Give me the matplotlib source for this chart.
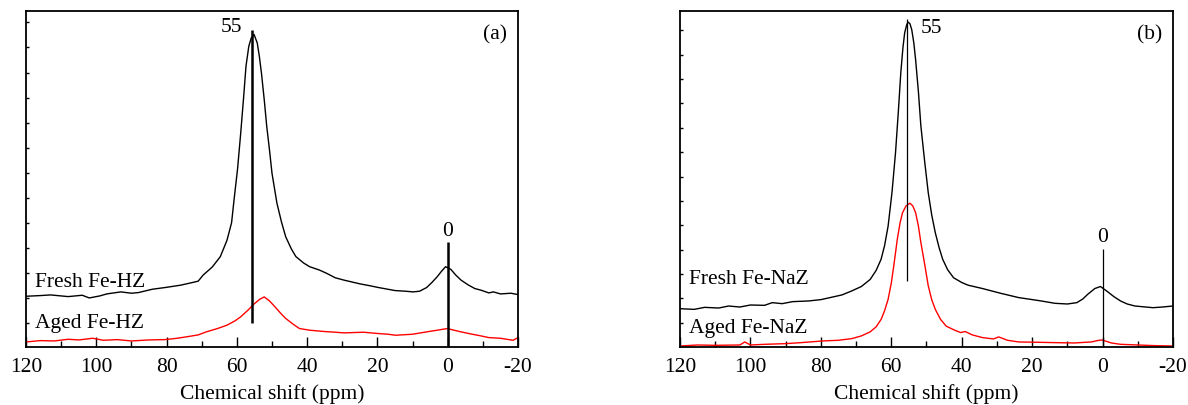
import numpy as np
import matplotlib
matplotlib.use('Agg')
from matplotlib import pyplot as plt
from matplotlib.ticker import MultipleLocator

plt.rcParams['font.family'] = ['Liberation Serif', 'DejaVu Serif']
plt.rcParams['font.size'] = 15.5

# (a) Fe-HZ : chemical shift (ppm) and normalised intensity
hz_fresh_x = [120, 116, 113, 108, 104, 102, 99, 97, 93, 90, 88, 84, 80.4, 76, 72.6, 71, 69.6, 67,
              64.7, 62.8, 61.5, 60.8, 59.8, 58.9, 58.1, 57.4, 56.6, 55.9, 55.1, 54.2, 53.6, 53.0,
              52.2, 51.5, 50.7, 50.0, 48.6, 47.3, 46.1, 44.5, 43.2, 41, 39.3, 36.5, 34.4, 32, 29.5,
              25, 22, 19.7, 15, 12, 9.9, 8, 6.0, 4.5, 3.0, 1.8, 0.6, -0.9, -2.3, -3.8, -5.8, -7.7,
              -9.5, -11.7, -13, -15, -18, -20]
hz_fresh_y = [0.151, 0.153, 0.155, 0.150, 0.154, 0.146, 0.152, 0.158, 0.164, 0.160, 0.162, 0.172,
              0.177, 0.184, 0.192, 0.196, 0.214, 0.238, 0.269, 0.318, 0.370, 0.438, 0.530, 0.637,
              0.740, 0.836, 0.895, 0.920, 0.930, 0.905, 0.865, 0.815, 0.735, 0.657, 0.585, 0.517,
              0.428, 0.372, 0.328, 0.292, 0.269, 0.250, 0.239, 0.229, 0.219, 0.206, 0.199, 0.188,
              0.182, 0.177, 0.168, 0.166, 0.164, 0.166, 0.177, 0.192, 0.209, 0.225, 0.239, 0.231,
              0.214, 0.199, 0.185, 0.174, 0.169, 0.161, 0.164, 0.158, 0.160, 0.156]
hz_aged_x = [120, 116, 112, 108, 105, 101, 98, 94, 90, 85, 80.4, 77, 74.5, 71, 68.7, 65.5, 62.8,
             60.5, 58.9, 57, 55.0, 53.5, 52.2, 50.8, 49.1, 47.5, 46.1, 44, 42.2, 39.3, 35, 32,
             29.5, 24, 19.7, 17, 14.8, 10, 6.0, 3, 0.1, -1.8, -3.8, -7, -9, -11.7, -15, -18.6, -20]
hz_aged_y = [0.015, 0.019, 0.018, 0.023, 0.021, 0.026, 0.020, 0.022, 0.018, 0.021, 0.022, 0.026,
             0.030, 0.036, 0.045, 0.055, 0.065, 0.078, 0.090, 0.108, 0.129, 0.142, 0.149, 0.138,
             0.119, 0.100, 0.085, 0.068, 0.055, 0.050, 0.046, 0.044, 0.042, 0.044, 0.040, 0.038,
             0.035, 0.038, 0.045, 0.050, 0.055, 0.050, 0.045, 0.038, 0.034, 0.028, 0.026, 0.020,
             0.028]

# (b) Fe-NaZ
naz_fresh_x = [120, 116, 113, 109, 106.2, 103, 100, 96, 93.8, 91, 88, 83.5, 80, 77.4, 74, 71.2,
               68.5, 66.0, 64.3, 62.9, 61.9, 60.9, 59.8, 58.8, 58.0, 57.3, 56.7, 56.2, 55.6, 55.2,
               54.7, 54.2, 53.6, 53.1, 52.3, 51.6, 50.5, 49.5, 48.5, 47.5, 46.4, 45.4, 44, 42.3,
               40, 38.2, 34.1, 29, 23.8, 18, 13.5, 10, 7.3, 5.6, 4.2, 2.2, 0.6, -1.5, -3.2, -5.1,
               -7, -9.2, -14.3, -17, -20]
naz_fresh_y = [0.114, 0.112, 0.118, 0.116, 0.122, 0.119, 0.125, 0.124, 0.132, 0.129, 0.135, 0.137,
               0.141, 0.147, 0.155, 0.167, 0.180, 0.201, 0.228, 0.261, 0.302, 0.360, 0.460, 0.578,
               0.700, 0.816, 0.890, 0.935, 0.960, 0.967, 0.962, 0.945, 0.905, 0.856, 0.760, 0.658,
               0.550, 0.459, 0.392, 0.340, 0.295, 0.261, 0.230, 0.206, 0.192, 0.184, 0.174, 0.160,
               0.147, 0.138, 0.130, 0.128, 0.132, 0.143, 0.157, 0.174, 0.180, 0.164, 0.150, 0.137,
               0.128, 0.122, 0.117, 0.119, 0.122]
naz_aged_x = [120, 115, 110, 103, 101.6, 100, 95.9, 90, 85.6, 79.4, 75, 71.2, 68.5, 66.0, 64.3,
              62.9, 61.9, 60.9, 60.0, 59.3, 58.3, 57.5, 56.8, 55.8, 54.7, 53.9, 53.1, 52.3, 51.6,
              50.5, 49.5, 48.5, 47.5, 46, 44.4, 42, 40.3, 39, 37, 34.1, 31, 29.5, 27, 23.8, 18,
              13.5, 8, 3.2, 1.5, 0.2, -2.5, -5.1, -10, -15, -20]
naz_aged_y = [0.003, 0.006, 0.005, 0.006, 0.015, 0.006, 0.008, 0.010, 0.013, 0.018, 0.020, 0.025,
              0.033, 0.045, 0.060, 0.082, 0.108, 0.142, 0.190, 0.241, 0.320, 0.370, 0.400, 0.420,
              0.428, 0.420, 0.400, 0.360, 0.311, 0.245, 0.182, 0.140, 0.112, 0.082, 0.062, 0.050,
              0.043, 0.046, 0.036, 0.028, 0.024, 0.030, 0.020, 0.015, 0.014, 0.013, 0.012, 0.015,
              0.019, 0.021, 0.012, 0.008, 0.006, 0.004, 0.003]

tick_labels = ['120', '100', '80', '60', '40', '20', '0', '-20']

panels = [
    dict(pos=[26/1188, 58/406, 492/1188, 336/406], fresh=(hz_fresh_x, hz_fresh_y),
         aged=(hz_aged_x, hz_aged_y), names=('Fresh Fe-HZ', 'Aged Fe-HZ'), tag='(a)',
         l55=(0.070, 0.943), l0=(0.0, 0.313), lw=1.8, t55=(61.5, 0.955), t0=0.348,
         tfresh=0.196, taged=0.072, ytop=0.966, ystep=0.0746, nyt=13),
    dict(pos=[680/1188, 58/406, 493/1188, 336/406], fresh=(naz_fresh_x, naz_fresh_y),
         aged=(naz_aged_x, naz_aged_y), names=('Fresh Fe-NaZ', 'Aged Fe-NaZ'), tag='(b)',
         l55=(0.196, 0.975), l0=(0.0, 0.291), lw=0.9, t55=(48.6, 0.950), t0=0.328,
         tfresh=0.203, taged=0.058, ytop=0.943, ystep=0.0726, nyt=13),
]

fig = plt.figure(figsize=(11.88, 4.06), dpi=100)
for p in panels:
    ax = fig.add_axes(p['pos'])
    ax.plot(*p['fresh'], color='black', lw=1.0)
    ax.plot(*p['aged'], color='red', lw=1.0)
    ax.vlines(55.6, *p['l55'], color='black', lw=p['lw'])
    ax.vlines(0.0, *p['l0'], color='black', lw=p['lw'])
    ax.text(p['t55'][0], p['t55'][1], '55', ha='center', va='center')
    ax.text(0.0, p['t0'], '0', ha='center', va='center')
    ax.text(-13.5, 0.932, p['tag'], ha='center', va='center')
    ax.text(117.5, p['tfresh'], p['names'][0], ha='left', va='center')
    ax.text(117.5, p['taged'], p['names'][1], ha='left', va='center')
    ax.set_xlim(120, -20)
    ax.set_ylim(0, 1)
    ax.set_xticks([120, 100, 80, 60, 40, 20, 0, -20])
    ax.set_xticklabels(tick_labels)
    ax.xaxis.set_minor_locator(MultipleLocator(10))
    ax.set_yticks(p['ytop'] - p['ystep'] * np.arange(p['nyt']))
    ax.set_yticklabels([])
    ax.tick_params(axis='x', which='major', direction='in', length=7, width=1, pad=7)
    ax.tick_params(axis='x', which='minor', direction='in', length=4, width=1)
    ax.tick_params(axis='y', which='major', direction='in', length=2.5, width=1)
    for s in ax.spines.values():
        s.set_linewidth(1.3)
    ax.set_xlabel('Chemical shift (ppm)', labelpad=5)

plt.savefig('out.png', dpi=100)
